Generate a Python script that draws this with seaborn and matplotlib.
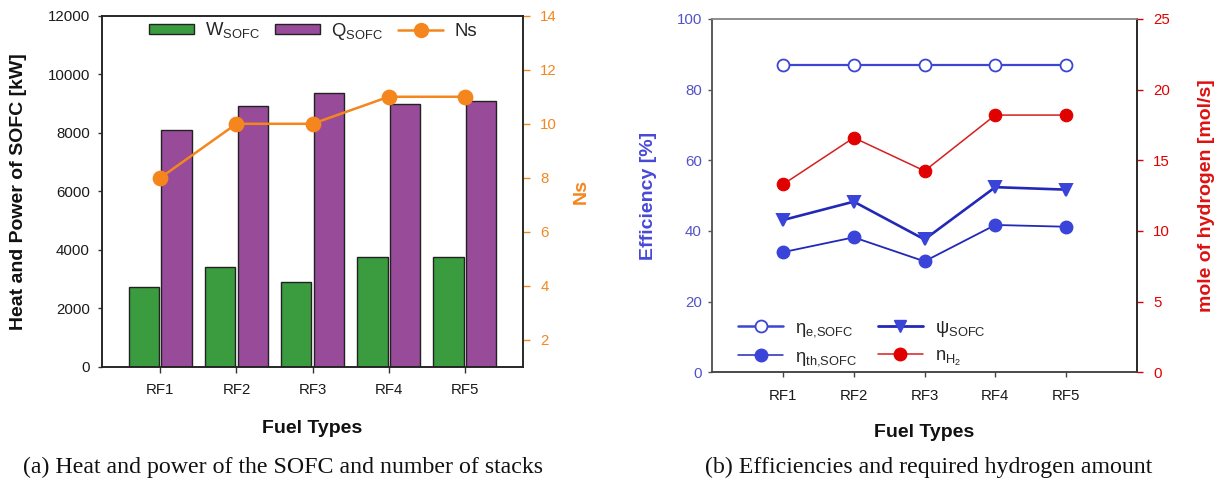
import numpy as np
import pandas as pd
import matplotlib
matplotlib.use("Agg")
import matplotlib.pyplot as plt
import seaborn as sns
from matplotlib.lines import Line2D
from matplotlib.patches import Patch

# ---------------- data ----------------
fuel_types = ["RF1", "RF2", "RF3", "RF4", "RF5"]
w_sofc = [2740, 3400, 2915, 3745, 3745]        # kW
q_sofc = [8110, 8925, 9345, 8970, 9095]        # kW
ns_stacks = [8, 10, 10, 11, 11]
eta_e = [86.9, 86.9, 86.9, 86.9, 86.9]         # %
psi_sofc = [43.1, 48.3, 37.6, 52.4, 51.7]      # %
eta_th = [34.0, 38.2, 31.4, 41.7, 41.2]        # %
n_h2 = [13.3, 16.6, 14.25, 18.2, 18.2]         # mol/s

bar_series = ["W$_{\\mathrm{SOFC}}$", "Q$_{\\mathrm{SOFC}}$"]

# ---------------- style ----------------
sns.set_style("ticks")
plt.rcParams["font.family"] = ["Liberation Sans", "DejaVu Sans"]
plt.rcParams["mathtext.fontset"] = "custom"
plt.rcParams["mathtext.rm"] = "Liberation Sans"
plt.rcParams["mathtext.it"] = "Liberation Sans:italic"
plt.rcParams["mathtext.bf"] = "Liberation Sans:bold"

GREEN = "#3a9b3f"
PURPLE = "#974b98"
ORANGE = "#f5861e"
BLUE_L = "#3c46d2"
BLUE_D = "#2228b8"
BLUE_M = "#3a44d8"
RED = "#e00000"
RED_L = "#d42020"
TICK_BLUE = "#5252c8"

fig = plt.figure(figsize=(12.21, 4.83), dpi=100)
ax1 = fig.add_axes([0.0833, 0.2402, 0.3448, 0.7273])
ax3 = fig.add_axes([0.5834, 0.2292, 0.3476, 0.7315])

# ---------------- panel (a) ----------------
df_bars = pd.DataFrame({
    "Fuel": fuel_types * 2,
    "Value": w_sofc + q_sofc,
    "Series": [bar_series[0]] * len(fuel_types) + [bar_series[1]] * len(fuel_types),
})
sns.barplot(data=df_bars, x="Fuel", y="Value", hue="Series", order=fuel_types,
            hue_order=bar_series, palette=[GREEN, PURPLE], saturation=1,
            width=0.86, gap=0.07, edgecolor="#222222", linewidth=1.0,
            errorbar=None, legend=False, ax=ax1)
ax1.set_ylim(0, 12000)
ax1.set_yticks(np.arange(0, 12001, 2000))
ax1.set_xlim(-0.77, 4.76)

ax2 = ax1.twinx()
sns.pointplot(x=fuel_types, y=ns_stacks, color=ORANGE, markers="o", linestyles="-",
              markersize=10, linewidth=1.8, errorbar=None, ax=ax2)
ax2.set_ylim(1, 14)
ax2.set_yticks(np.arange(2, 15, 2))
ax1.set_xlim(-0.77, 4.76)

for sp in ["top", "bottom", "left", "right"]:
    ax1.spines[sp].set_color("#222222")
    ax1.spines[sp].set_linewidth(1.1)
    ax2.spines[sp].set_color("#222222")
    ax2.spines[sp].set_linewidth(1.1)

ax1.tick_params(axis="y", direction="out", length=3, width=1, color="#333333",
                labelsize=10.8, pad=5.5, labelcolor="#1a1a1a")
ax1.tick_params(axis="x", direction="out", length=4.3, width=1, color="#333333",
                labelsize=10.8, pad=7, labelcolor="#1a1a1a")
ax2.tick_params(axis="y", direction="out", length=5.2, width=1, color=ORANGE,
                labelsize=10.8, pad=7.5, labelcolor=ORANGE)

ax1.set_xlabel("Fuel Types", fontsize=14, fontweight="bold", color="#111111")
ax1.xaxis.set_label_coords(0.5, -0.174)
ax1.xaxis.label.set_va("center")
ax1.set_ylabel("Heat and Power of SOFC [kW]", fontsize=14, fontweight="bold", color="#111111")
ax1.yaxis.set_label_coords(-0.198, 0.5)
ax1.yaxis.label.set_va("center")
ax2.set_ylabel("Ns", fontsize=14, fontweight="bold", color=ORANGE)
ax2.yaxis.set_label_coords(1.14, 0.5)
ax2.yaxis.label.set_va("center")
ax2.set_xlabel("")

leg_handles = [
    Patch(facecolor=GREEN, edgecolor="#222222", linewidth=1.0),
    Patch(facecolor=PURPLE, edgecolor="#222222", linewidth=1.0),
    Line2D([], [], color=ORANGE, marker="o", markersize=10, linewidth=1.8),
]
fig.legend(leg_handles, bar_series + ["Ns"], loc="center left",
           bbox_to_anchor=(149 / 1221, 1 - 31 / 483), ncol=3, frameon=False,
           fontsize=13.3, handlelength=2.45, handleheight=0.5, handletextpad=0.6,
           columnspacing=0.8, borderpad=0, borderaxespad=0)

# ---------------- panel (b) ----------------
sns.pointplot(x=fuel_types, y=eta_e, color=BLUE_L, markers="o", linestyles="-",
              markersize=8.6, linewidth=1.6, errorbar=None, ax=ax3,
              markerfacecolor="white", markeredgecolor=BLUE_L, markeredgewidth=1.3)
sns.pointplot(x=fuel_types, y=psi_sofc, color=BLUE_D, markers="v", linestyles="-",
              markersize=9, linewidth=1.9, errorbar=None, ax=ax3,
              markerfacecolor=BLUE_M, markeredgecolor=BLUE_M)
sns.pointplot(x=fuel_types, y=eta_th, color=BLUE_D, markers="o", linestyles="-",
              markersize=9, linewidth=1.3, errorbar=None, ax=ax3,
              markerfacecolor=BLUE_M, markeredgecolor=BLUE_M)
ax3.set_ylim(0, 100)
ax3.set_yticks(np.arange(0, 101, 20))

ax4 = ax3.twinx()
sns.pointplot(x=fuel_types, y=n_h2, color=RED_L, markers="o", linestyles="-",
              markersize=9, linewidth=1.1, errorbar=None, ax=ax4,
              markerfacecolor=RED, markeredgecolor=RED)
ax4.set_ylim(0, 25)
ax4.set_yticks(np.arange(0, 26, 5))
ax3.set_xlim(-1.0, 5.0)

ax3.spines["top"].set_color("#8a8a8a")
ax4.spines["top"].set_color("#8a8a8a")
ax3.spines["left"].set_color("#555555")
ax4.spines["left"].set_color("#555555")
ax3.spines["bottom"].set_color("#444444")
ax4.spines["bottom"].set_color("#444444")
ax4.spines["right"].set_color("#222222")
ax3.spines["right"].set_color("#222222")
for a in (ax3, ax4):
    for sp in a.spines.values():
        sp.set_linewidth(1.1)

ax3.tick_params(axis="y", direction="out", length=3, width=1, color="#555555",
                labelsize=10.8, pad=4.5, labelcolor=TICK_BLUE)
ax3.tick_params(axis="x", direction="out", length=3.6, width=1, color="#444444",
                labelsize=10.8, pad=8.5, labelcolor="#1a1a1a")
ax4.tick_params(axis="y", direction="out", length=4.5, width=1, color=RED,
                labelsize=10.8, pad=7.2, labelcolor=RED)

ax3.set_xlabel("Fuel Types", fontsize=14, fontweight="bold", color="#111111")
ax3.xaxis.set_label_coords(0.5, -0.169)
ax3.xaxis.label.set_va("center")
ax3.set_ylabel("Efficiency [%]", fontsize=14, fontweight="bold", color="#4848d8")
ax3.yaxis.set_label_coords(-0.1515, 0.5)
ax3.yaxis.label.set_va("center")
ax4.set_ylabel("mole of hydrogen [mol/s]", fontsize=14, fontweight="bold", color="#dd1111")
ax4.yaxis.set_label_coords(1.165, 0.5)
ax4.yaxis.label.set_va("center")
ax4.set_xlabel("")

eff_handles = [
    Line2D([], [], color=BLUE_L, marker="o", markersize=8.6, linewidth=1.8,
           markerfacecolor="white", markeredgecolor=BLUE_L, markeredgewidth=1.3),
    Line2D([], [], color=BLUE_D, marker="o", markersize=9, linewidth=1.1,
           markerfacecolor=BLUE_M, markeredgecolor=BLUE_M),
    Line2D([], [], color=BLUE_D, marker="v", markersize=9, linewidth=2.0,
           markerfacecolor=BLUE_M, markeredgecolor=BLUE_M),
    Line2D([], [], color=RED_L, marker="o", markersize=9, linewidth=1.1,
           markerfacecolor=RED, markeredgecolor=RED),
]
eff_labels = ["η$_{\\mathrm{e{,}SOFC}}$", "η$_{\\mathrm{th{,}SOFC}}$",
              "ψ$_{\\mathrm{SOFC}}$", "n$_{\\mathrm{H_2}}$"]
fig.legend(eff_handles, eff_labels, loc="center left",
           bbox_to_anchor=(738 / 1221, 1 - 343.3 / 483), ncol=2, frameon=False,
           fontsize=13.3, handlelength=2.45, handletextpad=0.65, labelspacing=0.5,
           columnspacing=1.1, borderpad=0, borderaxespad=0)

# ---------------- captions ----------------
cap_font = ["Liberation Serif", "DejaVu Serif"]
fig.text(283 / 1221, 1 - 467 / 483, "(a) Heat and power of the SOFC and number of stacks",
         ha="center", va="center", fontsize=17.2, family=cap_font, color="#111111")
fig.text(928.5 / 1221, 1 - 467 / 483, "(b) Efficiencies and required hydrogen amount",
         ha="center", va="center", fontsize=17.2, family=cap_font, color="#111111")

fig.savefig("out.png", dpi=100)
